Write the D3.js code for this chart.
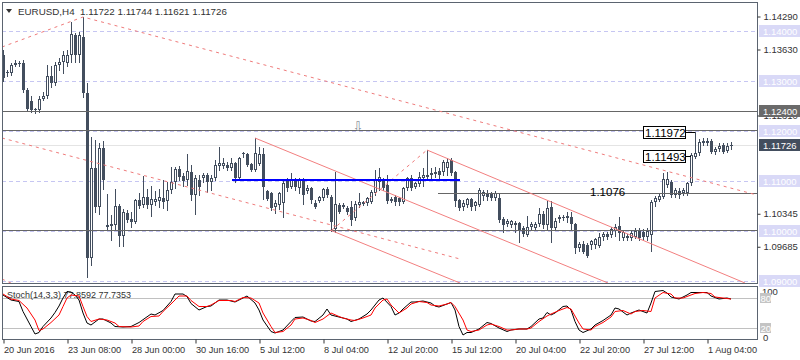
<!DOCTYPE html>
<html>
<head>
<meta charset="utf-8">
<script src="https://cdn.jsdelivr.net/npm/d3@7"></script>
<style>
body { margin: 0; background: #fff; }
svg { display: block; font-family: "Liberation Sans", Arial, sans-serif; }
</style>
</head>
<body>
<div id="chart"></div>
<script>
// EURUSD H4 candles, [open, high, low, close]
var ohlc = [
[1.1352,1.1362,1.1300,1.1306],[1.1316,1.1322,1.1310,1.1318],[1.1316,1.1336,1.1312,1.1332],[1.1332,1.1342,1.1330,1.1336],
[1.1336,1.1340,1.1330,1.1334],[1.1336,1.1342,1.1278,1.1282],[1.1282,1.1286,1.1240,1.1244],[1.1260,1.1270,1.1238,1.1242],
[1.1242,1.1246,1.1236,1.1244],[1.1242,1.1270,1.1238,1.1264],[1.1264,1.1278,1.1262,1.1270],[1.1270,1.1332,1.1266,1.1310],
[1.1310,1.1330,1.1288,1.1296],[1.1296,1.1338,1.1292,1.1332],[1.1332,1.1346,1.1322,1.1338],[1.1338,1.1360,1.1316,1.1352],
[1.1336,1.1362,1.1330,1.1352],[1.1352,1.1418,1.1338,1.1394],[1.1392,1.1396,1.1338,1.1352],[1.1352,1.1398,1.1338,1.1392],
[1.1388,1.1428,1.1268,1.1276],[1.1276,1.1296,1.0908,1.0946],[1.0946,1.1188,1.0932,1.1126],[1.1126,1.1182,1.1038,1.1048],
[1.1048,1.1176,1.1034,1.1166],[1.1166,1.1180,1.1084,1.1102],[1.1012,1.1074,1.1004,1.1008],[1.1010,1.1032,1.0982,1.1014],
[1.1012,1.1084,1.1004,1.1050],[1.1050,1.1054,1.0970,1.0990],[1.0990,1.1044,1.0970,1.1038],[1.1036,1.1042,1.1018,1.1022],
[1.1024,1.1038,1.1008,1.1018],[1.1018,1.1064,1.1016,1.1062],[1.1062,1.1076,1.1046,1.1050],[1.1052,1.1110,1.1048,1.1068],
[1.1068,1.1084,1.1046,1.1052],[1.1052,1.1090,1.1030,1.1064],[1.1058,1.1080,1.1052,1.1064],[1.1060,1.1084,1.1048,1.1068],
[1.1066,1.1102,1.1046,1.1058],[1.1060,1.1098,1.1042,1.1082],[1.1082,1.1128,1.1076,1.1098],[1.1098,1.1128,1.1086,1.1124],
[1.1124,1.1130,1.1102,1.1108],[1.1110,1.1116,1.1090,1.1100],[1.1102,1.1154,1.1092,1.1120],[1.1118,1.1132,1.1062,1.1072],
[1.1072,1.1112,1.1034,1.1106],[1.1102,1.1112,1.1072,1.1088],[1.1106,1.1116,1.1098,1.1112],[1.1112,1.1116,1.1078,1.1098],
[1.1098,1.1112,1.1082,1.1106],[1.1106,1.1142,1.1102,1.1132],[1.1130,1.1168,1.1122,1.1136],[1.1130,1.1146,1.1126,1.1136],
[1.1132,1.1138,1.1122,1.1126],[1.1126,1.1146,1.1122,1.1136],[1.1136,1.1138,1.1098,1.1106],[1.1106,1.1148,1.1106,1.1146],
[1.1154,1.1158,1.1148,1.1156],[1.1154,1.1156,1.1130,1.1132],[1.1134,1.1136,1.1120,1.1122],[1.1122,1.1186,1.1120,1.1156],
[1.1134,1.1168,1.1132,1.1154],[1.1154,1.1166,1.1064,1.1088],[1.1080,1.1082,1.1062,1.1064],[1.1076,1.1078,1.1042,1.1046],
[1.1048,1.1062,1.1036,1.1056],[1.1052,1.1078,1.1044,1.1076],[1.1056,1.1104,1.1028,1.1096],[1.1102,1.1106,1.1080,1.1086],
[1.1088,1.1116,1.1086,1.1102],[1.1102,1.1106,1.1082,1.1088],[1.1086,1.1106,1.1076,1.1104],[1.1102,1.1106,1.1054,1.1072],
[1.1080,1.1092,1.1076,1.1086],[1.1086,1.1088,1.1056,1.1062],[1.1056,1.1062,1.1046,1.1048],[1.1060,1.1070,1.1058,1.1068],
[1.1066,1.1086,1.1062,1.1084],[1.1084,1.1088,1.1068,1.1072],[1.1068,1.1072,1.1000,1.1018],[1.1004,1.1118,1.0998,1.1054],
[1.1052,1.1056,1.1036,1.1038],[1.1052,1.1056,1.1046,1.1048],[1.1046,1.1050,1.1034,1.1038],[1.1048,1.1060,1.1012,1.1022],
[1.1026,1.1060,1.1022,1.1054],[1.1052,1.1076,1.1048,1.1058],[1.1054,1.1060,1.1052,1.1058],[1.1056,1.1068,1.1052,1.1066],
[1.1058,1.1082,1.1056,1.1078],[1.1076,1.1122,1.1072,1.1102],[1.1098,1.1126,1.1082,1.1108],[1.1100,1.1106,1.1082,1.1086],
[1.1092,1.1112,1.1056,1.1060],[1.1064,1.1068,1.1058,1.1060],[1.1068,1.1072,1.1052,1.1058],[1.1066,1.1068,1.1052,1.1058],
[1.1058,1.1088,1.1056,1.1086],[1.1086,1.1108,1.1082,1.1106],[1.1106,1.1112,1.1082,1.1086],[1.1088,1.1098,1.1086,1.1096],
[1.1094,1.1118,1.1090,1.1108],[1.1106,1.1126,1.1090,1.1112],[1.1108,1.1162,1.1102,1.1112],[1.1112,1.1126,1.1106,1.1116],
[1.1114,1.1128,1.1108,1.1118],[1.1120,1.1126,1.1102,1.1112],[1.1118,1.1142,1.1112,1.1138],[1.1126,1.1146,1.1112,1.1138],
[1.1142,1.1146,1.1112,1.1116],[1.1118,1.1120,1.1050,1.1060],[1.1062,1.1064,1.1042,1.1046],[1.1048,1.1062,1.1042,1.1056],
[1.1052,1.1066,1.1048,1.1064],[1.1064,1.1066,1.1042,1.1048],[1.1050,1.1060,1.1042,1.1058],[1.1052,1.1086,1.1050,1.1082],
[1.1070,1.1082,1.1062,1.1078],[1.1076,1.1082,1.1062,1.1068],[1.1074,1.1078,1.1062,1.1066],[1.1066,1.1080,1.1062,1.1076],
[1.1066,1.1076,1.1018,1.1022],[1.1024,1.1028,1.0998,1.1012],[1.1014,1.1024,1.1010,1.1020],[1.1012,1.1022,1.1008,1.1020],
[1.1016,1.1020,1.0998,1.1012],[1.1016,1.1018,1.0978,1.1000],[1.1006,1.1010,1.0990,1.0994],[1.0992,1.1030,1.0990,1.1008],
[1.1008,1.1018,1.1002,1.1014],[1.1006,1.1018,1.1002,1.1014],[1.1014,1.1046,1.1010,1.1034],[1.1034,1.1040,1.1006,1.1012],
[1.1012,1.1060,1.1002,1.1046],[1.1048,1.1060,1.0978,1.1006],[1.1006,1.1026,1.1002,1.1020],[1.1024,1.1032,1.1018,1.1028],
[1.1026,1.1032,1.1022,1.1028],[1.1026,1.1038,1.1018,1.1030],[1.1028,1.1038,1.1002,1.1014],[1.1014,1.1016,1.0956,1.0966],
[1.0966,1.0978,1.0960,1.0974],[1.0974,1.0980,1.0956,1.0958],[1.0972,1.0976,1.0948,1.0950],[1.0972,1.0982,1.0964,1.0980],
[1.0972,1.0986,1.0966,1.0984],[1.0970,1.0996,1.0968,1.0988],[1.0988,1.0998,1.0982,1.0994],[1.0994,1.0998,1.0984,1.0988],
[1.0992,1.1008,1.0988,1.1004],[1.1000,1.1014,1.0990,1.1008],[1.1010,1.1028,1.0982,1.0996],[1.0986,1.1002,1.0982,1.0998],
[1.0990,1.0994,1.0982,1.0986],[1.0986,1.1000,1.0982,1.0996],[1.0988,1.1006,1.0986,1.1000],[1.1000,1.1006,1.0982,1.0986],
[1.0998,1.1004,1.0982,1.0988],[1.0988,1.1006,1.0982,1.1000],[1.0992,1.1062,1.0960,1.1058],[1.1058,1.1070,1.1050,1.1066],
[1.1062,1.1076,1.1060,1.1070],[1.1068,1.1116,1.1066,1.1104],[1.1092,1.1118,1.1088,1.1104],[1.1098,1.1102,1.1068,1.1072],
[1.1072,1.1086,1.1068,1.1082],[1.1080,1.1086,1.1066,1.1072],[1.1076,1.1086,1.1072,1.1082],[1.1076,1.1098,1.1072,1.1096],
[1.1096,1.1156,1.1092,1.1152],[1.1148,1.1198,1.1146,1.1156],[1.1156,1.1184,1.1152,1.1178],[1.1176,1.1186,1.1172,1.1180],
[1.1180,1.1186,1.1172,1.1176],[1.1180,1.1184,1.1156,1.1158],[1.1158,1.1168,1.1154,1.1164],[1.1164,1.1176,1.1160,1.1170],
[1.1172,1.1176,1.1156,1.1158],[1.1160,1.1176,1.1158,1.1170],[1.1170,1.1178,1.1164,1.1172]
];

// stochastic (14,3,3) lines, [bar index, value]
var stochMain = [[0,86],[2,76],[4,73],[5,53],[7,23],[8,8],[9,11],[10,23],[12,40],[13,51],[14,64],[15,80],[16,93],[17,92],
[18,86],[19,76],[20,50],[21,30],[22,26],[24,38],[25,38],[27,30],[28,23],[30,22],[32,23],[34,31],[37,48],[38,46],[40,55],
[42,73],[43,88],[45,88],[46,83],[47,69],[49,56],[51,63],[52,64],[54,76],[56,76],[58,72],[60,80],[61,84],[63,70],[64,56],
[65,36],[67,13],[68,10],[70,16],[72,33],[73,41],[75,42],[77,34],[78,33],[80,46],[81,58],[82,46],[84,42],[86,38],[87,33],
[89,38],[91,48],[92,56],[94,76],[95,80],[97,63],[98,46],[99,50],[100,58],[102,72],[103,72],[105,74],[107,70],[108,64],
[109,62],[111,68],[112,71],[113,56],[114,23],[115,6],[116,11],[117,11],[119,18],[121,31],[122,29],[124,20],[126,13],
[127,16],[129,18],[131,18],[132,23],[134,38],[135,40],[136,51],[137,46],[138,50],[140,63],[141,64],[142,56],[143,33],
[144,16],[145,11],[147,18],[148,26],[150,35],[152,46],[153,60],[154,58],[156,46],[157,50],[159,56],[161,50],[162,70],
[163,93],[165,95],[166,90],[167,82],[169,78],[171,86],[172,91],[174,91],[176,91],[177,84],[179,78],[181,80],[182,78]];

var stochSignal = [[0,88],[2,78],[4,75],[6,60],[8,36],[9,15],[10,18],[12,31],[14,46],[15,63],[16,80],[17,86],[19,84],
[20,63],[21,43],[22,33],[24,38],[26,36],[28,30],[29,23],[32,22],[34,24],[35,33],[37,43],[39,44],[40,53],[42,68],[44,84],
[46,84],[47,75],[49,63],[51,63],[52,66],[54,75],[57,75],[58,73],[60,81],[62,80],[64,70],[65,50],[67,23],[68,11],[70,13],
[72,26],[73,38],[75,40],[77,35],[78,31],[80,38],[82,50],[84,43],[85,40],[87,36],[88,35],[90,40],[92,46],[93,60],[95,76],
[96,78],[97,66],[99,50],[101,60],[102,68],[104,73],[106,71],[107,66],[109,64],[111,68],[112,71],[113,63],[115,36],
[116,16],[117,13],[119,16],[121,26],[122,28],[124,23],[126,16],[127,16],[129,18],[131,18],[132,20],[134,33],[136,44],
[137,48],[139,55],[141,61],[142,58],[144,30],[145,18],[147,16],[148,23],[150,31],[152,42],[153,53],[155,55],[157,48],
[158,53],[160,55],[162,53],[163,80],[165,91],[167,88],[168,80],[170,80],[172,86],[173,89],[175,91],[177,89],[178,82],
[180,80],[182,78]];

// time axis
var timeBars = [0, 16, 32, 48, 64, 80, 96, 112, 128, 144, 160, 176];
var timeLabels = ['20 Jun 2016', '23 Jun 08:00', '28 Jun 00:00', '30 Jun 16:00', '5 Jul 12:00', '8 Jul 04:00',
    '12 Jul 20:00', '15 Jul 12:00', '20 Jul 04:00', '22 Jul 20:00', '27 Jul 12:00', '1 Aug 04:00'];

// price axis (labels that are not covered by the level boxes)
var priceTicks = [1.1429, 1.1363, 1.1231, 1.10345, 1.09685];
var roundLevels = [1.14, 1.13, 1.12, 1.11, 1.10, 1.09];
var solidLevels = [1.1240, 1.1202, 1.1002];
var darkLevel = 1.1240;
var lastPrice = 1.11726;

// drawn objects, [bar index, price]
var dottedLines = [
    [[-0.25, 1.1368], [20, 1.1428], [188.5, 1.1072]],
    [[-0.25, 1.1186], [114.25, 1.0944]],
    [[-0.25, 1.0904], [2.5, 1.0894]],
    [[82.25, 1.1002], [106, 1.1162]]
];
var channelLines = [
    [[63, 1.1186], [151.25, 1.0896]],
    [[81.75, 1.1002], [114.25, 1.0896]],
    [[106, 1.1162], [185.5, 1.0896]]
];
var blueLine = [[57.25, 1.1101], [114.25, 1.1101]];
var levelLine = [[108.75, 1.1076], [188.5, 1.1076]];
var levelText = '1.1076';
var priceLabels = [
    {bar: 173, price: 1.11972, text: '1.11972'},
    {bar: 172, price: 1.11493, text: '1.11493'}
];

var title = 'EURUSD,H4  1.11722 1.11744 1.11621 1.11726';
var stochTitle = 'Stoch(14,3,3) 77.8592 77.7353';

// ------------------------------------------------------------
var candleColor = '#434e5e';
var borderColor = '#5b6470';
var lavender = '#c6c6f2';
var pane = {left: 2, right: 757, top: 2, bottom: 283};
var spane = {top: 286, bottom: 339};

var svg = d3.select('#chart')
    .append('svg')
    .attr('width', 800)
    .attr('height', 360);

var x = d3.scaleLinear().domain([0, ohlc.length - 1]).range([3, 731]);
var y = d3.scaleLinear().domain([1.09, 1.14]).range([281, 31]);
var ys = d3.scaleLinear().domain([0, 100]).range([338, 288]);

var crisp = v => Math.round(v) + 0.5;

var defs = svg.append('defs');
defs.append('clipPath').attr('id', 'clipMain')
    .append('rect')
    .attr('x', pane.left).attr('y', pane.top)
    .attr('width', pane.right - pane.left).attr('height', pane.bottom - pane.top);
defs.append('clipPath').attr('id', 'clipStoch')
    .append('rect')
    .attr('x', pane.left).attr('y', spane.top)
    .attr('width', pane.right - pane.left).attr('height', spane.bottom - spane.top);

var main = svg.append('g').attr('clip-path', 'url(#clipMain)');

// round level dashed lines
main.selectAll('.round')
    .data(roundLevels)
    .enter()
    .append('line')
    .attr('x1', pane.left).attr('x2', pane.right)
    .attr('y1', d => crisp(y(d))).attr('y2', d => crisp(y(d)))
    .attr('stroke', lavender)
    .attr('stroke-dasharray', '4,3');

// bid line
main.append('line')
    .attr('x1', pane.left).attr('x2', pane.right)
    .attr('y1', crisp(y(lastPrice))).attr('y2', crisp(y(lastPrice)))
    .attr('stroke', '#e4e4e4');

// candles
var candles = main.selectAll('.candle')
    .data(ohlc)
    .enter()
    .append('g');

candles.append('line')
    .attr('x1', (d, i) => x(i) + 0.5)
    .attr('x2', (d, i) => x(i) + 0.5)
    .attr('y1', d => Math.round(y(d[1])))
    .attr('y2', d => Math.round(y(d[2])) + 1)
    .attr('stroke', candleColor);

candles.each(function (d, i) {
    var g = d3.select(this);
    var yo = Math.round(y(d[0]));
    var yc = Math.round(y(d[3]));
    if (d[3] < d[0]) {
        g.append('rect')
            .attr('x', x(i) - 1).attr('width', 3)
            .attr('y', yo).attr('height', Math.max(1, yc - yo))
            .attr('fill', candleColor);
    } else if (yo - yc >= 2) {
        g.append('rect')
            .attr('x', x(i) - 0.5).attr('width', 2)
            .attr('y', yc + 0.5).attr('height', yo - yc - 1)
            .attr('fill', '#fff')
            .attr('stroke', candleColor);
    } else {
        g.append('rect')
            .attr('x', x(i) - 1).attr('width', 3)
            .attr('y', yc).attr('height', 1)
            .attr('fill', candleColor);
    }
});

// horizontal lines
main.selectAll('.solid')
    .data(solidLevels)
    .enter()
    .append('line')
    .attr('x1', pane.left).attr('x2', pane.right)
    .attr('y1', d => crisp(y(d))).attr('y2', d => crisp(y(d)))
    .attr('stroke', '#666');

var line = d3.line().x(d => x(d[0])).y(d => y(d[1]));

main.append('path')
    .attr('d', d3.line().x(d => x(d[0])).y(d => crisp(y(d[1])))(levelLine))
    .attr('fill', 'none')
    .attr('stroke', '#666');

main.append('text')
    .attr('x', 590).attr('y', crisp(y(levelLine[0][1])) + 2)
    .attr('font-size', 11.5)
    .attr('fill', '#000')
    .text(levelText);

main.selectAll('.dotted')
    .data(dottedLines)
    .enter()
    .append('path')
    .attr('d', line)
    .attr('fill', 'none')
    .attr('stroke', '#ef7b7b')
    .attr('stroke-dasharray', '3,4');

main.selectAll('.channel')
    .data(channelLines)
    .enter()
    .append('path')
    .attr('d', line)
    .attr('fill', 'none')
    .attr('stroke', '#f27f7f');

main.append('path')
    .attr('d', d3.line().x(d => x(d[0])).y(d => Math.round(y(d[1])))(blueLine))
    .attr('fill', 'none')
    .attr('stroke', '#0000ff')
    .attr('stroke-width', 2);

// arrow mark
main.append('text')
    .attr('x', 358).attr('y', 131)
    .attr('text-anchor', 'middle')
    .attr('font-family', 'DejaVu Sans')
    .attr('font-size', 13)
    .attr('fill', '#8a8f99')
    .text('\u21E9');

// price label objects
priceLabels.forEach(function (p) {
    var py = crisp(y(p.price));
    main.append('line')
        .attr('x1', 685).attr('x2', x(p.bar))
        .attr('y1', py).attr('y2', py)
        .attr('stroke', '#000');
    main.append('rect')
        .attr('x', 643.5).attr('y', py - 6)
        .attr('width', 42).attr('height', 12)
        .attr('fill', '#fff').attr('stroke', '#000');
    main.append('text')
        .attr('x', 645).attr('y', py + 4)
        .attr('font-size', 11.5)
        .attr('fill', '#000')
        .text(p.text);
});

// title
svg.append('path').attr('d', 'M6,9 L12,9 L9,13 Z').attr('fill', '#333');
svg.append('text')
    .attr('x', 18).attr('y', 15)
    .attr('font-size', 9.8)
    .attr('fill', '#333')
    .attr('xml:space', 'preserve')
    .style('white-space', 'pre')
    .text(title);

// pane borders
svg.append('rect')
    .attr('x', pane.left + 0.5).attr('y', pane.top + 0.5)
    .attr('width', pane.right - pane.left).attr('height', pane.bottom - pane.top)
    .attr('fill', 'none').attr('stroke', borderColor);

// right price axis
var rightAxis = d3.axisRight(y)
    .tickValues(priceTicks)
    .tickSize(3)
    .tickFormat(d3.format('.5f'));

var yAxis = svg.append('g')
    .attr('transform', `translate(${pane.right + 0.5}, 0)`)
    .call(rightAxis);
yAxis.select('.domain').remove();
yAxis.selectAll('line').attr('stroke', '#333');
yAxis.selectAll('text')
    .attr('x', 6)
    .attr('font-size', 9.5)
    .attr('font-family', '"Liberation Sans", Arial, sans-serif')
    .attr('fill', '#333');

// level boxes on the axis
var boxes = roundLevels.map(v => ({v: v, bg: '#d9d9f7'}))
    .concat([{v: darkLevel, bg: '#6a6a6a'}, {v: lastPrice, bg: '#434e5e'}]);

var boxG = svg.selectAll('.box')
    .data(boxes)
    .enter()
    .append('g')
    .attr('transform', d => `translate(759, ${Math.round(y(d.v))})`);
boxG.append('rect')
    .attr('x', 0).attr('y', -6)
    .attr('width', 41).attr('height', 12)
    .attr('fill', d => d.bg);
boxG.append('text')
    .attr('x', 4).attr('y', 4)
    .attr('font-size', 9.5)
    .attr('fill', '#fff')
    .text(d => d.v.toFixed(5));

// stochastic pane
var stoch = svg.append('g').attr('clip-path', 'url(#clipStoch)');

stoch.selectAll('.lvl')
    .data([80, 20])
    .enter()
    .append('line')
    .attr('x1', pane.left).attr('x2', pane.right)
    .attr('y1', d => crisp(ys(d))).attr('y2', d => crisp(ys(d)))
    .attr('stroke', '#c0c0c0');

stoch.append('text')
    .attr('x', 7).attr('y', 298)
    .attr('font-size', 9)
    .attr('fill', '#333')
    .text(stochTitle);

var sline = d3.line().x(d => x(d[0])).y(d => ys(d[1]));

stoch.append('path')
    .attr('d', sline(stochMain))
    .attr('fill', 'none')
    .attr('stroke', '#000');

stoch.append('path')
    .attr('d', sline(stochSignal))
    .attr('fill', 'none')
    .attr('stroke', '#ff0000');

svg.append('rect')
    .attr('x', pane.left + 0.5).attr('y', spane.top + 0.5)
    .attr('width', pane.right - pane.left).attr('height', spane.bottom - spane.top)
    .attr('fill', 'none').attr('stroke', borderColor);

// stoch axis labels
svg.append('text').attr('x', 762).attr('y', 295).attr('font-size', 9.5).attr('fill', '#333').text('100');
svg.selectAll('.sbox')
    .data([80, 20])
    .enter()
    .append('g')
    .attr('transform', d => `translate(760, ${Math.round(ys(d))})`)
    .each(function (d) {
        var g = d3.select(this);
        g.append('rect').attr('x', 0).attr('y', -5).attr('width', 11).attr('height', 10).attr('fill', '#c4c4c4');
        g.append('text').attr('x', 0.5).attr('y', 4).attr('font-size', 9.5).attr('fill', '#fff').text(d);
    });
svg.append('text').attr('x', 763).attr('y', 341).attr('font-size', 9.5).attr('fill', '#333').text('0');

// time axis
var bottomAxis = d3.axisBottom(x)
    .tickValues(timeBars)
    .tickSize(4)
    .tickFormat((d, i) => timeLabels[i]);

var xAxis = svg.append('g')
    .attr('transform', `translate(0.5, ${spane.bottom + 0.5})`)
    .call(bottomAxis);
xAxis.select('.domain').remove();
xAxis.selectAll('line').attr('stroke', '#333');
xAxis.selectAll('text')
    .attr('text-anchor', 'start')
    .attr('x', 0)
    .attr('y', 7)
    .attr('font-size', 9.2)
    .attr('font-family', '"Liberation Sans", Arial, sans-serif')
    .attr('fill', '#333');
</script>
</body>
</html>
